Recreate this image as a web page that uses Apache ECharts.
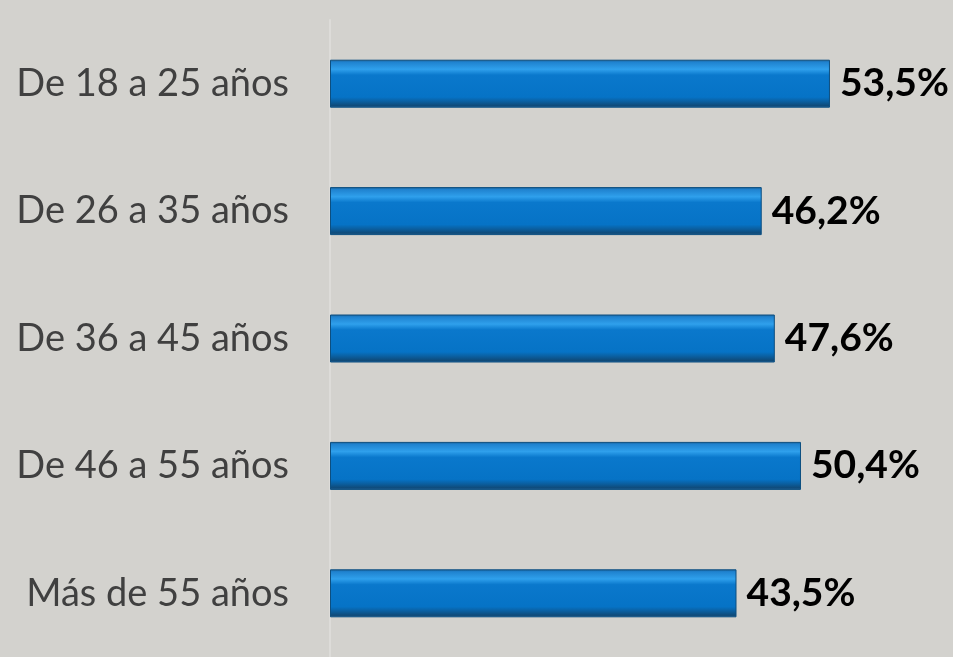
<!DOCTYPE html>
<html>
<head>
<meta charset="utf-8">
<script src="https://cdn.jsdelivr.net/npm/echarts@6/dist/echarts.min.js"></script>
<style>
  html, body { margin: 0; padding: 0; background: #d3d2ce; }
  #chart { width: 953px; height: 657px; }
</style>
</head>
<body>
<div id="chart"></div>
<script>
// datos del gráfico
const categorias = ['De 18 a 25 años', 'De 26 a 35 años', 'De 36 a 45 años', 'De 46 a 55 años', 'Más de 55 años']
const valores = [53.5, 46.2, 47.6, 50.4, 43.5]

const myChart = echarts.init(document.getElementById('chart'))

// relleno azul con efecto biselado
const relleno = new echarts.graphic.LinearGradient(0, 0, 0, 1, [
  { offset: 0, color: '#1a5f94' },
  { offset: 0.05, color: '#1f82cf' },
  { offset: 0.2, color: '#2fa0ec' },
  { offset: 0.32, color: '#0a78cc' },
  { offset: 0.78, color: '#0673c6' },
  { offset: 0.88, color: '#0b5d9c' },
  { offset: 0.96, color: '#0f4a78' },
  { offset: 1, color: '#2a6ea3' }
])

const option = {
  backgroundColor: '#d3d2ce',
  animation: false,
  grid: { left: 330, right: 62.3, top: 20, height: 642 },
  xAxis: {
    type: 'value',
    min: 0,
    max: 60,
    show: false
  },
  yAxis: {
    type: 'category',
    inverse: true,
    data: categorias,
    axisTick: { show: false },
    axisLine: { show: true, lineStyle: { color: '#dddcd9', width: 2 } },
    axisLabel: {
      margin: 41,
      color: '#404040',
      fontFamily: 'Lato',
      fontSize: 38
    }
  },
  series: [
    {
      type: 'bar',
      data: valores,
      barWidth: 48,
      itemStyle: {
        color: relleno,
        borderColor: '#0d4f80',
        borderWidth: 1
      },
      label: {
        show: true,
        position: 'right',
        distance: 10,
        color: '#000',
        fontFamily: 'Lato',
        fontWeight: 'bold',
        fontSize: 39,
        formatter: (p) => p.value.toFixed(1).replace('.', ',') + '%'
      }
    }
  ]
}
myChart.setOption(option)
</script>
</body>
</html>
